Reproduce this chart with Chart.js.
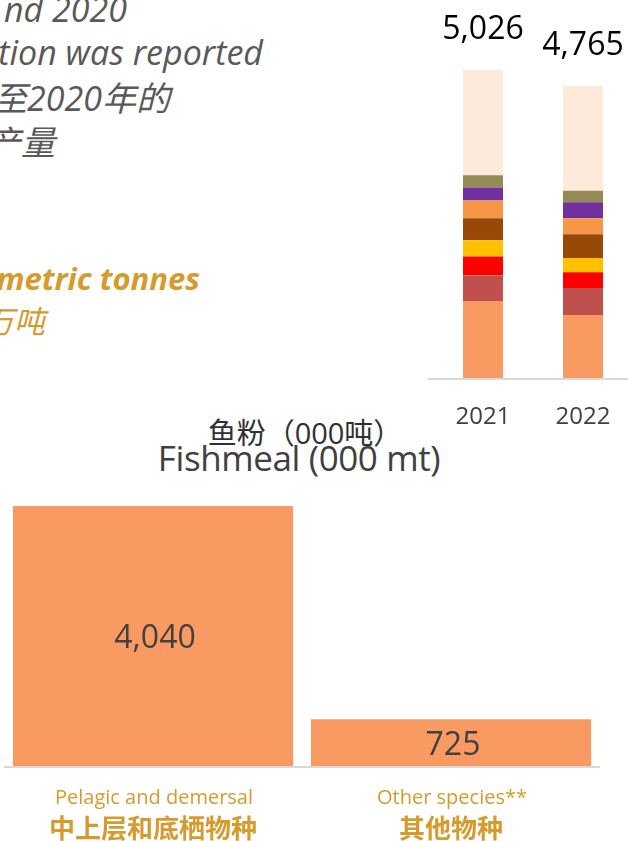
<!DOCTYPE html>
<html><head><meta charset="utf-8">
<script src="https://cdn.jsdelivr.net/npm/chart.js@4.4.0/dist/chart.umd.min.js"></script>
<style>
html,body{margin:0;padding:0;width:628px;height:841px;overflow:hidden;background:#fff;}
.t{position:absolute;white-space:nowrap;font-family:"Open Sans","Noto Sans CJK SC",sans-serif;line-height:1;text-align:right;}
.gray{font-style:italic;color:#595959;font-size:34px;}
.gold{font-style:italic;color:#D69A2D;font-size:31px;}
#c1{position:absolute;left:428px;top:0;}
#c2{position:absolute;left:0;top:480px;}
.ttl{position:absolute;width:598px;text-align:center;white-space:nowrap;font-family:"Open Sans","Noto Sans CJK SC",sans-serif;color:#404040;line-height:1;}
</style></head><body>
<div class="t gray" style="right:501px;top:-8px;">nd 2020</div>
<div class="t gray" style="right:365px;top:35px;">tion was reported</div>
<div class="t gray" style="right:458px;top:81px;">至2020年的</div>
<div class="t gray" style="right:573px;top:125px;">产量</div>
<div class="t gold" style="right:428px;top:263px;font-weight:bold;">metric tonnes</div>
<div class="t gold" style="right:583px;top:306px;">万吨</div>
<div class="ttl" style="left:6px;top:418px;font-size:29px;color:#303030;">鱼粉（000吨）</div>
<div class="ttl" style="left:0;top:440px;font-size:35px;letter-spacing:-0.4px;">Fishmeal (000 mt)</div>
<canvas id="c1" width="205" height="440"></canvas>
<canvas id="c2" width="628" height="361"></canvas>
<script>
// Stacked production chart (000 mt), segments bottom to top
const years = ['2021', '2022'];
const seg1 = [1256, 1028];
const seg2 = [419, 441];
const seg3 = [304, 256];
const seg4 = [268, 233];
const seg5 = [359, 387];
const seg6 = [287, 261];
const seg7 = [212, 261];
const seg8 = [202, 184];
const seg9 = [1719, 1714];
const segColors = ['#F89A62','#C0504D','#FF0000','#FFC000','#984807','#F79646','#7030A0','#948A54','#FDEADA'];

// Fishmeal chart
const fmCatsEn = ['Pelagic and demersal', 'Other species**'];
const fmCatsZh = ['中上层和底栖物种', '其他物种'];
const fmValues = [4040, 725];

const FONT = '"Open Sans","Noto Sans CJK SC",sans-serif';
const segs = [seg1,seg2,seg3,seg4,seg5,seg6,seg7,seg8,seg9];

const topPlugin = {
  id: 'topLabels',
  afterDatasetsDraw(chart) {
    const ctx = chart.ctx, xs = chart.scales.x, ys = chart.scales.y;
    const y0 = ys.getPixelForValue(0);
    ctx.save();
    ctx.strokeStyle = '#D9D9D9'; ctx.lineWidth = 2;
    ctx.beginPath(); ctx.moveTo(0, y0 + 1); ctx.lineTo(chart.width, y0 + 1); ctx.stroke();
    years.forEach((yr, i) => {
      const total = chart.data.datasets.reduce((s, d) => s + d.data[i], 0);
      const px = xs.getPixelForValue(i);
      const py = ys.getPixelForValue(total);
      ctx.textAlign = 'center'; ctx.textBaseline = 'middle';
      ctx.fillStyle = '#000'; ctx.font = '32px ' + FONT;
      ctx.fillText(total.toLocaleString('en-US'), px, py - 40);
      ctx.fillStyle = '#404040'; ctx.font = '24px ' + FONT;
      ctx.fillText(yr, px, y0 + 39);
    });
    ctx.restore();
  }
};

new Chart(document.getElementById('c1'), {
  type: 'bar',
  data: {
    labels: years,
    datasets: segs.map((s, k) => ({ label: 'Segment ' + (k + 1), data: s, backgroundColor: segColors[k], borderWidth: 0 }))
  },
  options: {
    responsive: false, animation: false,
    layout: { padding: { top: 10, bottom: 62, left: 5, right: 0 } },
    plugins: { legend: { display: false }, tooltip: { enabled: false } },
    datasets: { bar: { barPercentage: 0.4, categoryPercentage: 1 } },
    scales: {
      x: { stacked: true, display: false },
      y: { stacked: true, display: false, min: 0, max: 6000 }
    }
  },
  plugins: [topPlugin]
});

const fmPlugin = {
  id: 'fmLabels',
  afterDatasetsDraw(chart) {
    const ctx = chart.ctx, xs = chart.scales.x, ys = chart.scales.y;
    const y0 = ys.getPixelForValue(0);
    ctx.save();
    ctx.strokeStyle = '#D9D9D9'; ctx.lineWidth = 2;
    ctx.beginPath(); ctx.moveTo(chart.chartArea.left, y0 + 1); ctx.lineTo(chart.chartArea.right, y0 + 1); ctx.stroke();
    const meta = chart.getDatasetMeta(0);
    meta.data.forEach((bar, i) => {
      ctx.textAlign = 'center'; ctx.textBaseline = 'middle';
      ctx.fillStyle = '#404040'; ctx.font = '32px ' + FONT;
      ctx.fillText(fmValues[i].toLocaleString('en-US'), bar.x + 2, (bar.y + bar.base) / 2 + 3);
      const px = xs.getPixelForValue(i);
      ctx.fillStyle = '#D69A2D';
      ctx.font = '20px ' + FONT;
      ctx.fillText(fmCatsEn[i], px + 1, y0 + 32);
      ctx.font = 'bold 26px ' + FONT;
      ctx.fillText(fmCatsZh[i], px, y0 + 65);
    });
    ctx.restore();
  }
};

new Chart(document.getElementById('c2'), {
  type: 'bar',
  data: {
    labels: fmCatsEn,
    datasets: [{ label: 'Fishmeal (000 mt)', data: fmValues, backgroundColor: '#F89A62', borderWidth: 0 }]
  },
  options: {
    responsive: false, animation: false,
    layout: { padding: { top: 26, bottom: 75, left: 4, right: 28 } },
    plugins: { legend: { display: false }, tooltip: { enabled: false } },
    datasets: { bar: { barPercentage: 0.94, categoryPercentage: 1 } },
    scales: {
      x: { display: false },
      y: { display: false, min: 0, max: 4040 }
    }
  },
  plugins: [fmPlugin]
});
</script>
</body></html>
